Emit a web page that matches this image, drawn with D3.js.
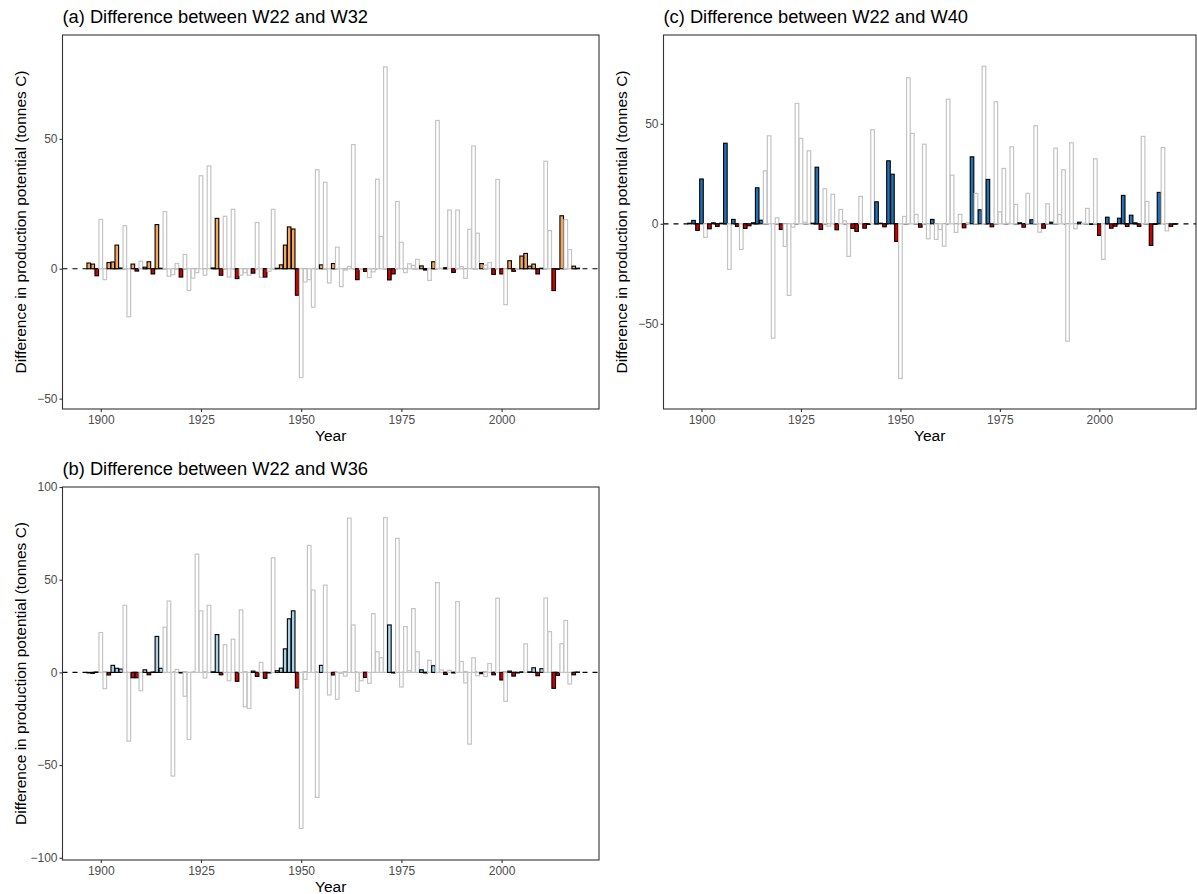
<!DOCTYPE html>
<html>
<head>
<meta charset="utf-8">
<script src="https://cdn.jsdelivr.net/npm/d3@7"></script>
<style>
  body { margin: 0; background: #fff; }
  svg { display: block; font-family: "Liberation Sans", Arial, sans-serif; }
</style>
</head>
<body>
<svg></svg>
<script>
// Years covered by every panel
var years = d3.range(1897, 2020)

// (a) W22 vs W32 : difference per year, 1 = significant (coloured), 0 = not (grey)
var valsA = [2.2, 1.8, -2.7, 19, -4.2, 2.4, 2.6, 9.1, 0.3, 16.6,
    -18.5, 1.8, -0.9, 2.9, 0.6, 2.7, -2, 17, 0.2, 22,
    -2.9, -2.3, 2.0, -3.2, 5.5, -8.4, -3.6, -1.5, 35.8, -2.5,
    39.6, 0.3, 19.4, -2.5, 20.2, -3.2, 22.9, -3.8, -2.5, -1.5,
    -2.5, -1.7, 17.8, -3.3, -3.2, -1, 22.9, 0.2, 1.5, 9.1,
    16.1, 15.3, -10.2, -41.9, -5.1, -4.2, -14.8, 38.1, 1.5, 33.3,
    -5.5, 2.0, 8.3, -6.9, -0.5, 0.9, 47.8, -4.2, -0.3, -1,
    -3.4, -1.2, 34.5, 12.4, 77.7, -4.3, -2, 25.9, 10.2, -1.5,
    1.9, 1.3, 3.6, 1.1, -0.5, -4.5, 2.7, 57.1, 0.2, 0.4,
    22.6, -1.4, 22.6, 0.9, -3.7, 15.2, 47.3, 13.7, 2.0, 1.4,
    2.4, -2.2, 34.4, -2.0, -13.8, 3.1, -1.0, -0.3, 4.9, 5.9,
    1.0, 1.8, -2.0, 0.2, 41.4, 14.7, -8.4, -0.2, 20.4, 18.9,
    7.4, 1.0, 0.2]
var sigA = [1, 1, 1, 0, 0, 1, 1, 1, 1, 0,
    0, 1, 1, 0, 1, 1, 1, 1, 1, 0,
    0, 0, 0, 1, 0, 0, 0, 0, 0, 0,
    0, 1, 1, 1, 0, 0, 0, 1, 0, 0,
    0, 1, 0, 0, 1, 0, 0, 1, 1, 1,
    1, 1, 1, 0, 0, 0, 0, 0, 1, 0,
    0, 1, 0, 0, 0, 0, 0, 1, 0, 1,
    0, 0, 0, 0, 0, 1, 1, 0, 0, 0,
    0, 0, 0, 1, 1, 0, 1, 0, 0, 1,
    0, 1, 0, 0, 0, 0, 0, 0, 1, 0,
    0, 1, 0, 1, 0, 1, 1, 0, 1, 1,
    1, 1, 1, 1, 0, 0, 1, 1, 1, 0,
    0, 1, 1]

// (b) W22 vs W36
var valsB = [-0.3, -0.5, 0.2, 21.5, -8.8, -1.4, 3.8, 2.2, 1.8, 36.2,
    -37.1, -2.9, -2.9, -9.9, 1.4, -1.3, 0.2, 19.4, 2.2, 24.4,
    38.5, -55.9, 1.6, -0.3, -12.9, -36.2, 0.2, 63.8, 33.2, -3,
    36.2, 0.3, 20.4, -1.3, 14.9, -4.5, 17.9, -4.8, 33.7, -18.6,
    -19.5, 0.7, -2.2, 5.4, -3.2, -0.3, 61.8, 0.9, 2.3, 12.7,
    28.9, 33.2, -8.4, -84.2, -3.8, 68.5, 44.4, -67.4, 3.8, 47.1,
    -12.2, -1.4, -14.5, -0.5, -2, 83.2, 25.6, -10.2, -4.5, -2.7,
    -5.9, 31.7, 11.1, 7.9, 83.5, 25.6, -0.3, 72.3, -7.9, 24.7,
    0.9, 34.4, 11.1, 1.4, -0.3, 6.5, 3.6, 48.4, 1.3, -1.1,
    1.1, -0.3, 38.2, 5.9, -5.7, -38.7, 7.9, -1.8, -0.7, -2.2,
    4.8, -1.3, 40, -4.1, -15.6, 0.7, -2, -0.3, 0.3, 15.4,
    0.3, 2.5, -1.8, 2, 40.1, 22, -8.6, -1.6, 15.4, 28,
    -6.3, -1.3, 0.2]
var sigB = [1, 1, 1, 0, 0, 1, 1, 1, 1, 0,
    0, 1, 1, 0, 1, 1, 1, 1, 1, 0,
    0, 0, 0, 1, 0, 0, 0, 0, 0, 0,
    0, 1, 1, 1, 0, 0, 0, 1, 0, 0,
    0, 1, 1, 0, 1, 1, 0, 1, 1, 1,
    1, 1, 1, 0, 0, 0, 0, 0, 1, 0,
    0, 1, 0, 0, 0, 0, 0, 0, 0, 1,
    0, 0, 0, 0, 0, 1, 1, 0, 0, 0,
    0, 0, 0, 1, 1, 0, 1, 0, 0, 1,
    0, 1, 0, 0, 0, 0, 0, 0, 1, 0,
    0, 1, 0, 1, 0, 1, 1, 1, 1, 0,
    1, 1, 1, 1, 0, 0, 1, 1, 0, 0,
    0, 1, 1]

// (c) W22 vs W40
var valsC = [0.3, 1.7, -3.3, 22.4, -6.8, -2.5, 0.5, -1.3, 0.3, 40.3,
    -22.8, 2.2, -1.3, -12.8, -2.3, -1, 0.5, 18, 1.8, 26.5,
    44, -57.2, 3, -2.8, -11.3, -35.8, -1.7, 60.2, 42.7, 0.8,
    36.5, 0.3, 28.3, -2.8, 17.5, -1.2, 14.8, -3, 7.2, 1.5,
    -16.3, -2.3, -3.8, 13.7, -2.2, -0.3, 47, 11, 0.3, -1.5,
    31.5, 24.8, -8.8, -77.3, 3.7, 73, 45.2, 4.7, -1.7, 39.8,
    -7.5, 2.2, -7.8, -2.8, -11.2, 62.3, 24.3, -4.3, 4.7, -2,
    0.5, 33.5, 15.2, 7, 78.8, 22.2, -1.5, 61, 6, 27.7,
    0.3, 38.5, 9.7, 0.5, -1.7, 15.2, 2, 49, -4.2, -2.2,
    10, 0.8, 37.8, 4.7, 27, -58.7, 40.5, -2.5, 0.8, 0.3,
    7.7, -0.3, 32.5, -5.8, -17.8, 3.3, -2.2, -1.2, 2.8, 14.2,
    -1.3, 4.3, 0.5, -1.3, 43.7, 11.2, -10.8, -0.3, 15.7, 38.2,
    -3.5, -1.3, -0.2]
var sigC = [1, 1, 1, 1, 0, 1, 1, 1, 1, 1,
    0, 1, 1, 0, 1, 1, 1, 1, 1, 0,
    0, 0, 0, 1, 0, 0, 0, 0, 0, 0,
    0, 1, 1, 1, 0, 0, 0, 1, 0, 0,
    0, 1, 1, 0, 1, 1, 0, 1, 1, 1,
    1, 1, 1, 0, 0, 0, 0, 0, 1, 0,
    0, 1, 0, 0, 0, 0, 0, 0, 0, 1,
    0, 1, 0, 1, 0, 1, 1, 0, 0, 0,
    0, 0, 0, 1, 1, 0, 1, 0, 0, 1,
    0, 1, 0, 0, 0, 0, 0, 0, 1, 0,
    0, 1, 0, 1, 0, 1, 1, 1, 1, 1,
    1, 1, 1, 1, 0, 0, 1, 1, 1, 0,
    0, 1, 1]

var xTicks = [1900, 1925, 1950, 1975, 2000]

var width = 1197,
    height = 894

var svg = d3.select("svg")
    .attr("width", width)
    .attr("height", height)

var negColor = "#cd0000"

function drawPanel(p) {
    var x = d3.scaleLinear()
        .domain([1890.45, 2024.3])
        .range([p.left, p.right])
    var y = d3.scaleLinear()
        .domain(p.yDomain)
        .range([p.bottom, p.top])

    var g = svg.append("g")

    // Panel title
    g.append("text")
        .attr("x", p.left)
        .attr("y", p.top - 12)
        .style("font-size", "18.3px")
        .style("fill", "#000")
        .text(p.title)

    // Dashed zero line (under the bars)
    g.append("line")
        .attr("x1", p.left).attr("x2", p.right)
        .attr("y1", y(0)).attr("y2", y(0))
        .style("stroke", "#000")
        .style("stroke-width", 1.2)
        .style("stroke-dasharray", "5,5")

    var bw = (x(1) - x(0)) * 0.9
    var rows = years.map(function(yr, i) {
        return { year: yr, v: p.vals[i], sig: p.sig[i] }
    })

    g.selectAll("rect.bar")
        .data(rows)
        .enter().append("rect")
        .attr("class", "bar")
        .attr("x", function(d) { return x(d.year) - bw / 2 })
        .attr("width", bw)
        .attr("y", function(d) { return y(Math.max(0, d.v)) })
        .attr("height", function(d) { return Math.abs(y(d.v) - y(0)) })
        .style("fill", function(d) {
            if (!d.sig) return "#fff"
            return d.v >= 0 ? p.posColor : negColor
        })
        .style("stroke", function(d) { return d.sig ? "#000" : "#c4c4c4" })
        .style("stroke-width", function(d) { return d.sig ? 1.1 : 1.2 })

    // Panel border
    g.append("rect")
        .attr("x", p.left).attr("y", p.top)
        .attr("width", p.right - p.left)
        .attr("height", p.bottom - p.top)
        .style("fill", "none")
        .style("stroke", "#333")
        .style("stroke-width", 1.1)

    // Axes
    var xAxis = g.append("g")
        .attr("transform", "translate(0," + p.bottom + ")")
        .call(d3.axisBottom(x).tickValues(xTicks).tickSize(3).tickPadding(3).tickFormat(d3.format("d")))
    var yAxis = g.append("g")
        .attr("transform", "translate(" + p.left + ",0)")
        .call(d3.axisLeft(y).tickValues(p.yTicks).tickSize(3).tickPadding(2).tickFormat(d3.format("d")))
    xAxis.select(".domain").remove()
    yAxis.select(".domain").remove()
    svg.selectAll(".tick line").style("stroke", "#333").style("stroke-width", 1.1)
    svg.selectAll(".tick text")
        .style("font-size", "12px")
        .style("font-family", "Liberation Sans, Arial, sans-serif")
        .style("fill", "#4d4d4d")

    // Axis titles
    g.append("text")
        .attr("x", (p.left + p.right) / 2)
        .attr("y", p.bottom + 32)
        .attr("text-anchor", "middle")
        .style("font-size", "15.5px")
        .text("Year")

    g.append("text")
        .attr("transform", "translate(" + (p.left - 37) + "," + ((p.top + p.bottom) / 2) + ") rotate(-90)")
        .attr("text-anchor", "middle")
        .style("font-size", "15.5px")
        .text("Difference in production potential (tonnes C)")
}

drawPanel({
    title: "(a) Difference between W22 and W32",
    vals: valsA, sig: sigA, posColor: "#f4a65a",
    left: 62.5, right: 599, top: 35, bottom: 409,
    yDomain: [-54, 90], yTicks: [-50, 0, 50]
})

drawPanel({
    title: "(b) Difference between W22 and W36",
    vals: valsB, sig: sigB, posColor: "#a6d4e6",
    left: 62.5, right: 599, top: 487, bottom: 860,
    yDomain: [-101.2, 100], yTicks: [-100, -50, 0, 50, 100]
})

drawPanel({
    title: "(c) Difference between W22 and W40",
    vals: valsC, sig: sigC, posColor: "#2171b5",
    left: 663.5, right: 1196, top: 35, bottom: 409,
    yDomain: [-92.6, 94.4], yTicks: [-50, 0, 50]
})
</script>
</body>
</html>
